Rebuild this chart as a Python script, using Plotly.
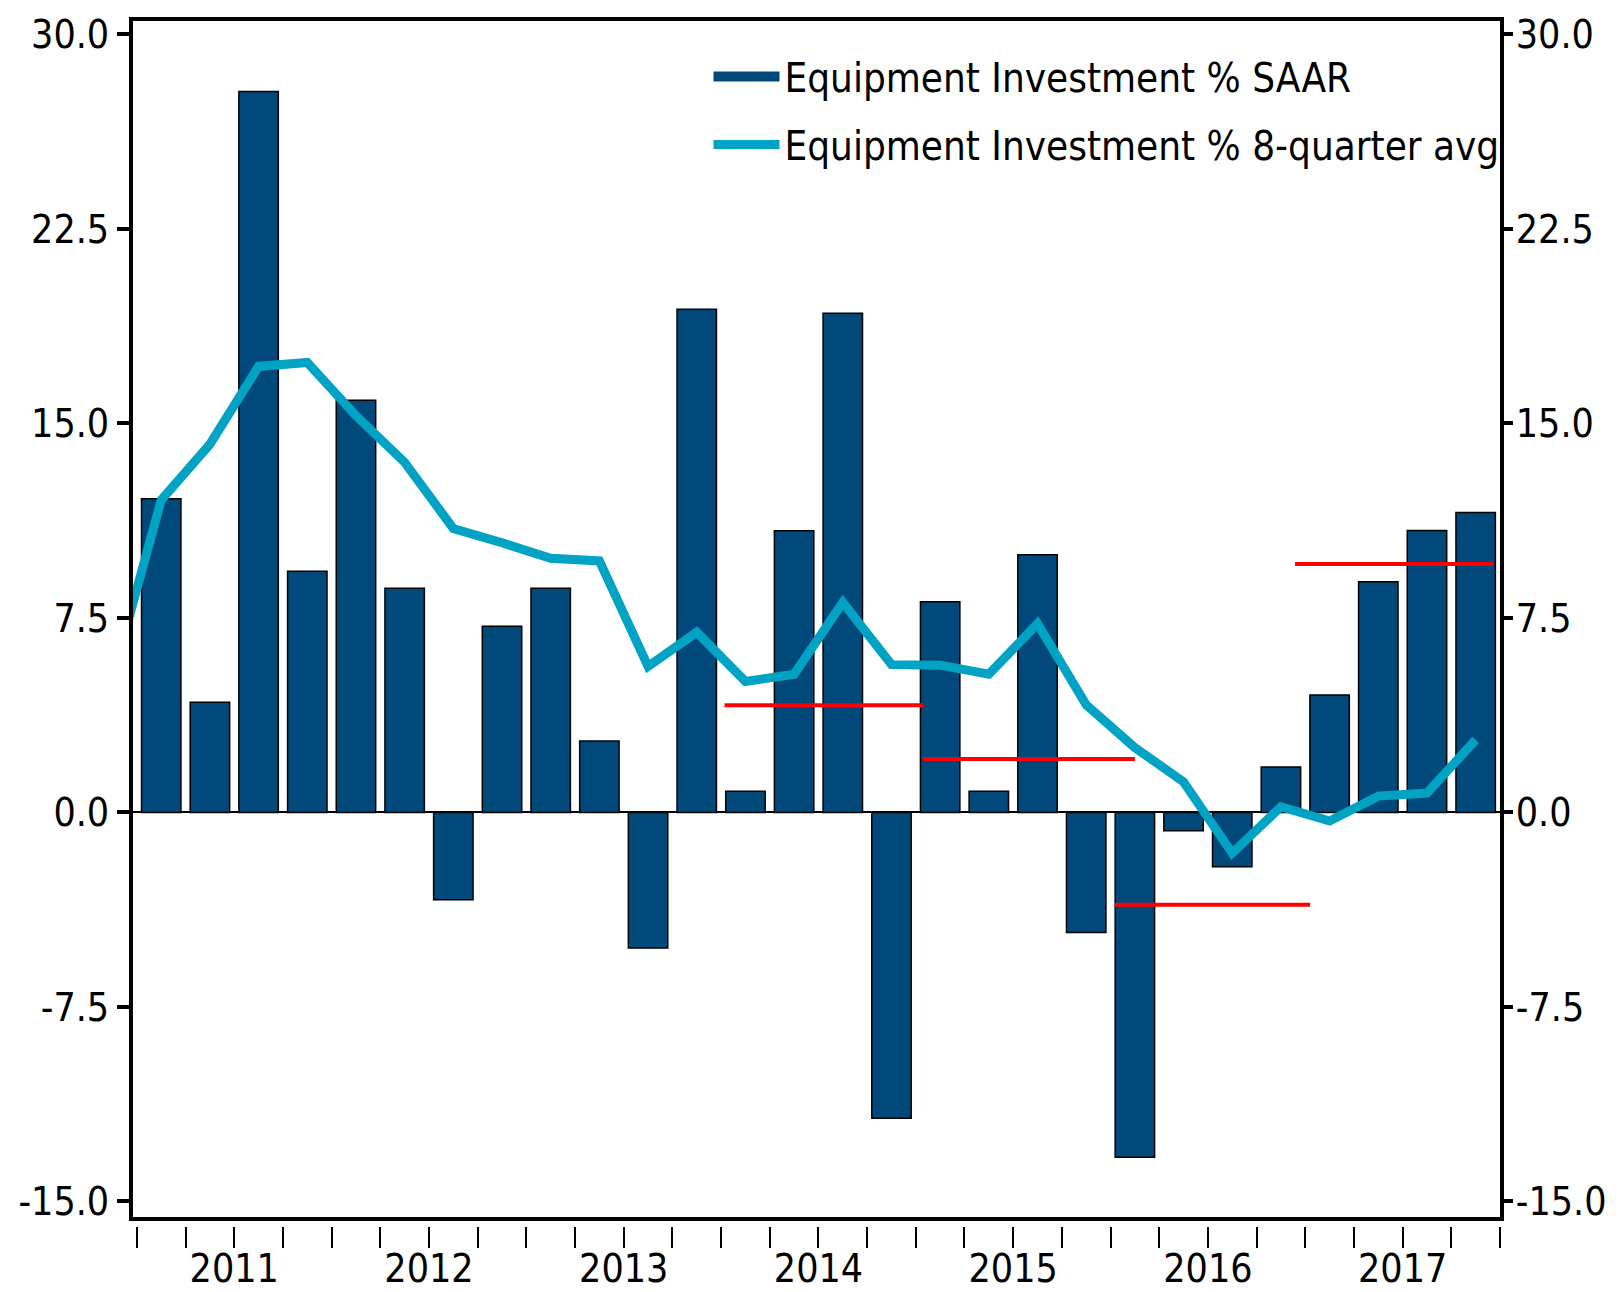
import plotly.graph_objects as go

# ---- data (quarterly, 2010Q4 .. 2017Q4) ----
quarter_pos = [-1, 0, 1, 2, 3, 4, 5, 6, 7, 8, 9, 10, 11, 12, 13, 14, 15, 16, 17, 18, 19,
               20, 21, 22, 23, 24, 25, 26, 27]
saar = [11.8, 12.1, 4.25, 27.8, 9.3, 15.9, 8.65, -3.37, 7.18, 8.65, 2.76, -5.23, 19.4,
        0.82, 10.86, 19.25, -11.79, 8.13, 0.82, 9.94, -4.63, -13.3, -0.71, -2.09, 1.75,
        4.53, 8.9, 10.87, 11.57]
avg8 = [5.2, 12.05, 14.2, 17.2, 17.35, 15.3, 13.5, 10.95, 10.4, 9.8, 9.7, 5.63, 6.95,
        5.05, 5.33, 8.1, 5.7, 5.68, 5.33, 7.28, 4.15, 2.5, 1.18, -1.57, 0.22, -0.33,
        0.63, 0.75, 2.8]

years = ["2011", "2012", "2013", "2014", "2015", "2016", "2017"]
year_centers = [1.5, 5.5, 9.5, 13.5, 17.5, 21.5, 25.5]
year_bounds = [-0.5, 3.5, 7.5, 11.5, 15.5, 19.5, 23.5, 27.5]
quarter_bounds = [q - 0.5 for q in range(0, 29)]

# red reference segments (level, start, end in quarter positions)
ref_levels = [4.13, 2.06, -3.56, 9.58]
ref_starts = [11.57, 15.64, 19.59, 23.29]
ref_ends = [15.66, 20.0, 23.6, 27.36]

y_ticks = [-15.0, -7.5, 0.0, 7.5, 15.0, 22.5, 30.0]
y_ticktext = ["-15.0", "-7.5", "0.0", "7.5", "15.0", "22.5", "30.0"]

BAR = "#02497B"
LINE = "#00A3C4"
FONT = "DejaVu Sans Condensed, Liberation Sans, sans-serif"
TICK_SIZE = 39

X_RANGE = [-0.58, 27.5]
Y_RANGE = [-15.6, 30.52]

fig = go.Figure()
fig.add_trace(go.Bar(x=quarter_pos, y=saar, marker=dict(color=BAR, line=dict(color="black", width=1.5)),
                     width=0.81, name="Equipment Investment % SAAR", showlegend=False))
# legend proxy for bars
fig.add_trace(go.Scatter(x=[None], y=[None], mode="lines", line=dict(color=BAR, width=22),
                         name="Equipment Investment % SAAR", legendgroup="a"))
fig.add_trace(go.Scatter(x=quarter_pos, y=avg8, mode="lines", line=dict(color=LINE, width=9),
                         name="Equipment Investment % 8-quarter avg", legendgroup="b"))
for lv, s, e in zip(ref_levels, ref_starts, ref_ends):
    fig.add_trace(go.Scatter(x=[s, e], y=[lv, lv], mode="lines", line=dict(color="red", width=4),
                             showlegend=False, hoverinfo="skip"))

W, H = 1624, 1292
ml, mr, mt, mb = 133, 124, 21, 66
plot_h = H - mt - mb
dom_bottom = 9 / plot_h

fig.update_layout(
    width=W, height=H,
    margin=dict(l=ml, r=mr, t=mt, b=mb, pad=0, autoexpand=False),
    paper_bgcolor="white", plot_bgcolor="white",
    font=dict(family=FONT, color="black", size=TICK_SIZE),
    bargap=0.19,
    showlegend=True,
    legend=dict(x=0.421, y=0.981, xanchor="left", yanchor="top", bgcolor="rgba(0,0,0,0)",
                font=dict(size=40, family=FONT), itemwidth=66, tracegroupgap=13),
    xaxis=dict(range=X_RANGE, showline=True, linecolor="black", linewidth=4, mirror=True,
               showticklabels=False, ticks="", showgrid=False, zeroline=False, automargin=False),
    xaxis2=dict(range=X_RANGE, overlaying="x", anchor="free", position=0, showline=False,
                tickmode="array", tickvals=year_bounds, ticktext=[""] * len(year_bounds),
                ticks="outside", ticklen=37, tickwidth=2, tickcolor="black",
                minor=dict(tickmode="array", tickvals=quarter_bounds, ticks="outside",
                           ticklen=21, tickwidth=2, tickcolor="black"),
                showgrid=False, zeroline=False, automargin=False),
    xaxis3=dict(range=X_RANGE, overlaying="x", anchor="free", position=0, showline=False,
                tickmode="array", tickvals=year_centers, ticktext=years, ticks="",
                tickfont=dict(size=TICK_SIZE, family=FONT), ticklabelstandoff=16,
                showgrid=False, zeroline=False, automargin=False),
    yaxis=dict(domain=[dom_bottom, 1], range=Y_RANGE, showline=True, linecolor="black", linewidth=4,
               mirror=True, tickmode="array", tickvals=y_ticks, ticktext=y_ticktext,
               ticks="outside", ticklen=12, tickwidth=4, tickcolor="black",
               tickfont=dict(size=TICK_SIZE, family=FONT), showgrid=False, zeroline=True,
               zerolinecolor="black", zerolinewidth=1.5, automargin=False),
    yaxis2=dict(domain=[dom_bottom, 1], range=Y_RANGE, overlaying="y", side="right", anchor="x",
                tickmode="array", tickvals=y_ticks, ticktext=y_ticktext,
                ticks="outside", ticklen=12, tickwidth=4, tickcolor="black",
                tickfont=dict(size=TICK_SIZE, family=FONT), ticklabelstandoff=-5,
                showgrid=False, zeroline=False, showline=False, automargin=False),
)
fig.add_trace(go.Scatter(x=[None], y=[None], yaxis="y2", showlegend=False, hoverinfo="skip"))
fig.add_trace(go.Scatter(x=[None], y=[None], xaxis="x2", showlegend=False, hoverinfo="skip"))
fig.add_trace(go.Scatter(x=[None], y=[None], xaxis="x3", showlegend=False, hoverinfo="skip"))

fig.write_html("out.html", config={"displayModeBar": False},
               post_script="document.body.style.margin='0';document.body.style.overflow='hidden';")
